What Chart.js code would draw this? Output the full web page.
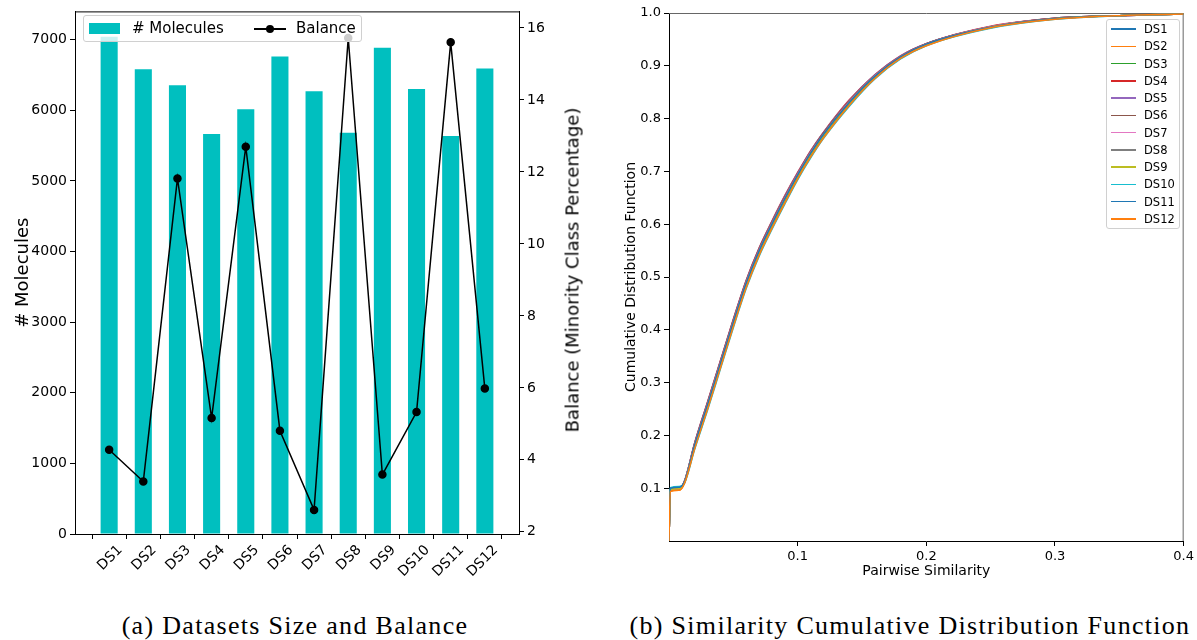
<!DOCTYPE html>
<html lang="en">
<head>
  <meta charset="UTF-8" />
  <title>Datasets Size and Balance / Similarity CDF</title>
  <script src="https://cdn.jsdelivr.net/npm/chart.js"></script>
  <style>
    body { margin: 0; background: #fff; font-family: "DejaVu Sans", sans-serif; color: #000; }
    #page { position: relative; width: 1197px; height: 640px; overflow: hidden; }
    .box { position: absolute; top: 0; height: 590px; }
    #leftBox { left: 0; width: 620px; }
    #rightBox { left: 620px; width: 577px; }
    .legend { position: absolute; background: rgba(255,255,255,0.8); border: 1px solid #d0d0d0; border-radius: 3px; box-sizing: border-box; }
    .lt { position: absolute; white-space: nowrap; }
    .caption { position: absolute; top: 610px; transform: translateX(-50%); white-space: nowrap;
               font-family: "Liberation Serif", serif; font-size: 26px; line-height: 32px; letter-spacing: 1.3px; }
    #y1Title { position: absolute; left: 572px; top: 270px; transform: translate(-50%, -50%) rotate(-90deg);
               white-space: nowrap; font-size: 18px; }
  </style>
</head>
<body>
<div id="page">
  <div class="box" id="leftBox"><canvas id="sizeChart"></canvas></div>
  <div class="box" id="rightBox"><canvas id="cdfChart"></canvas></div>

  <!-- legend of panel (a) -->
  <div class="legend" style="left:83px; top:15px; width:279px; height:27px;">
    <span class="lt" style="left:5px; top:7px; width:31px; height:11px; background:#00bfbf;"></span>
    <span class="lt" style="left:48px; top:3px; font-size:15px;"># Molecules</span>
    <span class="lt" style="left:170px; top:12px; width:32px; height:1.5px; background:#000;"></span>
    <span class="lt" style="left:182px; top:9px; width:8px; height:8px; border-radius:50%; background:#000;"></span>
    <span class="lt" style="left:212px; top:3px; font-size:15px;">Balance</span>
  </div>
  <div id="y1Title">Balance (Minority Class Percentage)</div>

  <!-- legend of panel (b), filled below -->
  <div class="legend" id="legendB" style="left:1106px; top:19px; width:74px; height:210px;"></div>

  <div class="caption" style="left:295px;">(a) Datasets Size and Balance</div>
  <div class="caption" style="left:910px;">(b) Similarity Cumulative Distribution Function</div>
</div>

<script>
  // ---- panel (a): dataset size and balance ----
  const dsLabels = ['DS1', 'DS2', 'DS3', 'DS4', 'DS5', 'DS6', 'DS7', 'DS8', 'DS9', 'DS10', 'DS11', 'DS12'];
  const molecules = [7040, 6580, 6355, 5665, 6015, 6760, 6270, 5680, 6885, 6300, 5635, 6590];
  const balance = [4.28, 3.40, 11.82, 5.16, 12.70, 4.81, 2.61, 15.72, 3.59, 5.33, 15.60, 5.98];
  const moleculeTicks = [0, 1000, 2000, 3000, 4000, 5000, 6000, 7000];
  const balanceTicks = [2, 4, 6, 8, 10, 12, 14, 16];

  // ---- panel (b): similarity CDF ----
  const cdfX = [0, 0.001, 0.008, 0.012, 0.02, 0.03, 0.04, 0.05, 0.06, 0.07, 0.08, 0.09,
                0.1, 0.11, 0.12, 0.14, 0.16, 0.18, 0.2, 0.25, 0.3, 0.35, 0.4];
  const cdfDS1  = [0, 0.099, 0.101, 0.113, 0.184, 0.261, 0.339, 0.417, 0.491, 0.552, 0.603, 0.651, 0.696, 0.737, 0.772, 0.833, 0.882, 0.918, 0.942, 0.974, 0.990, 0.995, 0.998];
  const cdfDS2  = [0, 0.094, 0.096, 0.110, 0.177, 0.252, 0.330, 0.408, 0.482, 0.543, 0.594, 0.642, 0.687, 0.728, 0.765, 0.826, 0.877, 0.914, 0.939, 0.972, 0.989, 0.995, 0.998];
  const cdfDS3  = [0, 0.096, 0.098, 0.110, 0.178, 0.254, 0.332, 0.410, 0.484, 0.545, 0.596, 0.644, 0.689, 0.730, 0.766, 0.828, 0.878, 0.915, 0.939, 0.973, 0.989, 0.995, 0.998];
  const cdfDS4  = [0, 0.097, 0.099, 0.113, 0.186, 0.264, 0.342, 0.420, 0.494, 0.555, 0.606, 0.654, 0.698, 0.739, 0.774, 0.835, 0.883, 0.919, 0.942, 0.975, 0.990, 0.995, 0.998];
  const cdfDS5  = [0, 0.097, 0.099, 0.113, 0.186, 0.263, 0.341, 0.419, 0.493, 0.554, 0.605, 0.653, 0.697, 0.738, 0.774, 0.834, 0.883, 0.919, 0.942, 0.974, 0.990, 0.995, 0.998];
  const cdfDS6  = [0, 0.096, 0.098, 0.113, 0.185, 0.262, 0.340, 0.418, 0.492, 0.553, 0.604, 0.652, 0.696, 0.737, 0.773, 0.833, 0.882, 0.918, 0.942, 0.974, 0.990, 0.995, 0.998];
  const cdfDS7  = [0, 0.097, 0.099, 0.112, 0.182, 0.259, 0.337, 0.415, 0.489, 0.550, 0.601, 0.649, 0.694, 0.735, 0.770, 0.831, 0.881, 0.917, 0.941, 0.974, 0.989, 0.995, 0.998];
  const cdfDS8  = [0, 0.098, 0.100, 0.111, 0.181, 0.257, 0.335, 0.413, 0.487, 0.548, 0.599, 0.647, 0.692, 0.733, 0.769, 0.830, 0.880, 0.916, 0.940, 0.973, 0.989, 0.995, 0.998];
  const cdfDS9  = [0, 0.097, 0.099, 0.111, 0.180, 0.256, 0.334, 0.412, 0.486, 0.547, 0.598, 0.646, 0.691, 0.732, 0.768, 0.829, 0.879, 0.916, 0.940, 0.973, 0.989, 0.995, 0.998];
  const cdfDS10 = [0, 0.101, 0.103, 0.109, 0.174, 0.248, 0.326, 0.404, 0.478, 0.539, 0.590, 0.638, 0.684, 0.725, 0.762, 0.823, 0.875, 0.913, 0.938, 0.971, 0.988, 0.995, 0.998];
  const cdfDS11 = [0, 0.100, 0.102, 0.112, 0.182, 0.258, 0.336, 0.414, 0.488, 0.549, 0.600, 0.648, 0.693, 0.734, 0.770, 0.830, 0.880, 0.917, 0.941, 0.973, 0.989, 0.995, 0.998];
  const cdfDS12 = [0, 0.094, 0.096, 0.109, 0.175, 0.250, 0.328, 0.406, 0.480, 0.541, 0.592, 0.640, 0.686, 0.727, 0.763, 0.825, 0.876, 0.914, 0.938, 0.972, 0.988, 0.995, 0.998];
  const cdfSeries = [cdfDS1, cdfDS2, cdfDS3, cdfDS4, cdfDS5, cdfDS6, cdfDS7, cdfDS8, cdfDS9, cdfDS10, cdfDS11, cdfDS12];
  const cdfColors = ['#1f77b4', '#ff7f0e', '#2ca02c', '#d62728', '#9467bd', '#8c564b',
                     '#e377c2', '#7f7f7f', '#bcbd22', '#17becf', '#1f77b4', '#ff7f0e'];
  const simTicks = [0.1, 0.2, 0.3, 0.4];
  const cdfTicks = [0.1, 0.2, 0.3, 0.4, 0.5, 0.6, 0.7, 0.8, 0.9, 1.0];

  // draws the top (and optionally right) spine like matplotlib
  const framePlugin = {
    id: 'frame',
    beforeDatasetsDraw(chart, args, opts) {
      const { ctx, chartArea: a } = chart;
      ctx.save();
      ctx.lineWidth = 1;
      ctx.strokeStyle = opts.color;
      ctx.beginPath();
      ctx.moveTo(a.left, a.top + 0.5);
      ctx.lineTo(a.right, a.top + 0.5);
      if (opts.right) {
        ctx.moveTo(a.right - 0.5, a.top);
        ctx.lineTo(a.right - 0.5, a.bottom);
      }
      ctx.stroke();
      ctx.restore();
    }
  };

  const axisLook = (size) => ({
    grid: { drawOnChartArea: false, color: '#000', tickLength: 5 },
    border: { color: '#000' },
    ticks: { color: '#000', font: { family: 'DejaVu Sans', size: size }, padding: 3, autoSkip: false }
  });

  Chart.defaults.font.family = 'DejaVu Sans';
  Chart.defaults.color = '#000';

  // panel (a)
  const ax = axisLook(14), ay = axisLook(14), ay1 = axisLook(14);
  new Chart(document.getElementById('sizeChart'), {
    type: 'bar',
    data: {
      datasets: [
        {
          type: 'line', label: 'Balance', yAxisID: 'y1', order: 0,
          data: balance.map((v, i) => ({ x: i, y: v })),
          borderColor: '#000', backgroundColor: '#000', borderWidth: 1.5,
          pointRadius: 3.5, pointHoverRadius: 3.5, tension: 0
        },
        {
          type: 'bar', label: '# Molecules', yAxisID: 'y', order: 1,
          data: molecules.map((v, i) => ({ x: i, y: v })),
          backgroundColor: '#00bfbf', barPercentage: 0.5, categoryPercentage: 1
        }
      ]
    },
    options: {
      responsive: true, maintainAspectRatio: false, animation: false,
      layout: { padding: { top: 7, left: 0, right: 0, bottom: 0 } },
      plugins: { legend: { display: false }, tooltip: { enabled: false }, frame: { color: '#000', right: false } },
      scales: {
        x: {
          ...ax, type: 'linear', min: -1, max: 12, offset: false,
          // matplotlib centres rotated labels under the tick
          ticks: { ...ax.ticks, minRotation: 45, maxRotation: 45, labelOffset: 11, callback: v => dsLabels[v] },
          afterBuildTicks: s => { s.ticks = dsLabels.map((_, i) => ({ value: i })); },
          afterFit: s => { s.height = 56; }
        },
        y: {
          ...ay, position: 'left', min: 0, max: 7400,
          ticks: { ...ay.ticks, callback: v => String(v) },
          afterBuildTicks: s => { s.ticks = moleculeTicks.map(v => ({ value: v })); },
          title: { display: true, text: '# Molecules', color: '#000', font: { size: 18 }, padding: { top: 13 } },
          afterFit: s => { s.width = 75; }
        },
        y1: {
          ...ay1, position: 'right', min: 1.94, max: 16.46,
          ticks: { ...ay1.ticks, callback: v => String(v) },
          afterBuildTicks: s => { s.ticks = balanceTicks.map(v => ({ value: v })); },
          afterFit: s => { s.width = 101; }
        }
      }
    },
    plugins: [framePlugin]
  });

  // panel (b)
  const bx = axisLook(13), by = axisLook(13);
  new Chart(document.getElementById('cdfChart'), {
    type: 'line',
    data: {
      datasets: dsLabels.map((name, i) => ({
        label: name,
        data: cdfX.map((x, j) => ({ x: x, y: cdfSeries[i][j] })),
        borderColor: cdfColors[i], borderWidth: 1.5, pointRadius: 0,
        cubicInterpolationMode: 'monotone', order: dsLabels.length - i
      }))
    },
    options: {
      responsive: true, maintainAspectRatio: false, animation: false,
      layout: { padding: { top: 13, right: 12, left: 0, bottom: 0 } },
      plugins: { legend: { display: false }, tooltip: { enabled: false }, frame: { color: '#666', right: true } },
      scales: {
        x: {
          ...bx, type: 'linear', min: 0, max: 0.4,
          ticks: { ...bx.ticks, maxRotation: 0, callback: v => v.toFixed(1) },
          afterBuildTicks: s => { s.ticks = simTicks.map(v => ({ value: v })); },
          title: { display: true, text: 'Pairwise Similarity', color: '#000', font: { size: 14 }, padding: { bottom: 10 } },
          afterFit: s => { s.height = 49; }
        },
        y: {
          ...by, min: 0, max: 1,
          ticks: { ...by.ticks, callback: v => v.toFixed(1) },
          afterBuildTicks: s => { s.ticks = cdfTicks.map(v => ({ value: v })); },
          title: { display: true, text: 'Cumulative Distribution Function', color: '#000', font: { size: 14 }, padding: { top: 3 } },
          afterFit: s => { s.width = 49; }
        }
      }
    },
    plugins: [framePlugin]
  });

  // legend of panel (b)
  const legendB = document.getElementById('legendB');
  dsLabels.forEach((name, i) => {
    const y = 9 + i * 17.27;
    legendB.insertAdjacentHTML('beforeend',
      `<span class="lt" style="left:4px; top:${y - 0.75}px; width:25px; height:1.5px; background:${cdfColors[i]};"></span>` +
      `<span class="lt" style="left:37px; top:${y - 8}px; font-size:11.5px; line-height:16px;">${name}</span>`);
  });
</script>
</body>
</html>
